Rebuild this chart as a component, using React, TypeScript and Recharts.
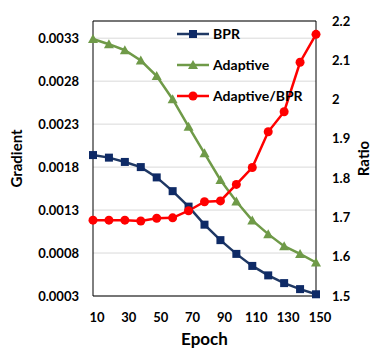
import { LineChart, Line, XAxis, YAxis, CartesianGrid, ReferenceArea, Label } from "recharts";

const epochs = [10, 20, 30, 40, 50, 60, 70, 80, 90, 100, 110, 120, 130, 140, 150];
const bpr = [0.00194, 0.00191, 0.00186, 0.0018, 0.00168, 0.00152, 0.00134, 0.00113, 0.00095, 0.00079, 0.00065, 0.00054, 0.00045, 0.00038, 0.00032];
const adaptive = [0.00329, 0.00323, 0.00316, 0.00304, 0.00286, 0.00259, 0.00227, 0.00196, 0.00165, 0.0014, 0.00118, 0.00102, 0.00088, 0.00079, 0.00069];
const ratio = [1.693, 1.693, 1.693, 1.691, 1.698, 1.699, 1.717, 1.74, 1.742, 1.784, 1.827, 1.918, 1.969, 2.095, 2.166];

const xTicks = [10, 30, 50, 70, 90, 110, 130, 150];
const leftTicks = [0.0003, 0.0008, 0.0013, 0.0018, 0.0023, 0.0028, 0.0033];
const rightTicks = [1.5, 1.6, 1.7, 1.8, 1.9, 2.0, 2.1, 2.2];

const BLUE = "#1f3864";
const BLUE_DOT = "#0e2a66";
const GREEN = "#6f9a48";
const RED = "#ff0000";
const FONT = "Lato, 'Open Sans', sans-serif";

const data = epochs.map((e, i) => ({ epoch: e, bpr: bpr[i], adaptive: adaptive[i], ratio: ratio[i] }));

const Square = (props: any) => {
  const { cx, cy, key } = props;
  return <rect key={key} x={cx - 4} y={cy - 4} width={8} height={8} fill={BLUE_DOT} />;
};

const Triangle = (props: any) => {
  const { cx, cy, key } = props;
  return <path key={key} d={`M${cx},${cy - 5} L${cx + 5},${cy + 4} L${cx - 5},${cy + 4} Z`} fill={GREEN} />;
};

const Circle = (props: any) => {
  const { cx, cy, key } = props;
  return <circle key={key} cx={cx} cy={cy} r={4.5} fill={RED} />;
};

const legendItems = [
  { name: "BPR", color: BLUE, marker: "square" },
  { name: "Adaptive", color: GREEN, marker: "triangle" },
  { name: "Adaptive/BPR", color: RED, marker: "circle" },
];

// legend sits inside the plot, so it is drawn as an overlay
function LegendBox() {
  return (
    <div style={{ position: "absolute", left: 176, top: 18, fontFamily: FONT, fontWeight: 700, fontSize: 14, color: "#000" }}>
      {legendItems.map((it) => (
        <div key={it.name} style={{ display: "flex", alignItems: "center", height: 31 }}>
          <svg width={34} height={12} style={{ marginRight: 3 }}>
            <line x1={1} y1={6} x2={33} y2={6} stroke={it.color} strokeWidth={2.5} />
            {it.marker === "square" && <rect x={13} y={2} width={8} height={8} fill={BLUE_DOT} />}
            {it.marker === "triangle" && <path d="M17,1 L22,10 L12,10 Z" fill={GREEN} />}
            {it.marker === "circle" && <circle cx={17} cy={6} r={4.5} fill={RED} />}
          </svg>
          <span>{it.name}</span>
        </div>
      ))}
    </div>
  );
}

export default function App() {
  const tickStyle = { fontFamily: FONT, fontWeight: 700, fontSize: 13, fill: "#000" };
  return (
    <div style={{ position: "absolute", left: 0, top: 0, width: 382, height: 357, background: "#fff" }}>
      <LineChart width={382} height={357} data={data} margin={{ top: 21, right: 0, left: 0, bottom: 0 }}>
        <CartesianGrid yAxisId="left" vertical={false} stroke="#d9d9d9" strokeWidth={1} />
        <XAxis
          dataKey="epoch"
          type="number"
          domain={[10, 150]}
          ticks={xTicks}
          height={61}
          axisLine={false}
          tickLine={false}
          tick={{ ...tickStyle, dy: 9, dx: 4 }}
        >
          <Label value="Epoch" position="insideBottom" offset={12} style={{ fontFamily: FONT, fontWeight: 700, fontSize: 17, fill: "#000" }} />
        </XAxis>
        <YAxis
          yAxisId="left"
          width={93}
          domain={[0.0003, 0.0035]}
          ticks={leftTicks}
          axisLine={false}
          tickLine={false}
          tickFormatter={(v: number) => v.toFixed(4)}
          tick={{ ...tickStyle, dx: -6 }}
        >
          <Label value="Gradient" angle={-90} position="insideLeft" offset={17} style={{ fontFamily: FONT, fontWeight: 700, fontSize: 15, fill: "#000", textAnchor: "middle" }} />
        </YAxis>
        <YAxis
          yAxisId="right"
          orientation="right"
          width={66}
          domain={[1.5, 2.2]}
          ticks={rightTicks}
          axisLine={false}
          tickLine={false}
          tickFormatter={(v: number) => String(Number(v.toFixed(1)))}
          tick={{ ...tickStyle, dx: 8 }}
        >
          <Label value="Ratio" angle={-90} position="insideRight" offset={18} style={{ fontFamily: FONT, fontWeight: 700, fontSize: 15, fill: "#000", textAnchor: "middle" }} />
        </YAxis>
        <ReferenceArea yAxisId="left" x1={10} x2={150} y1={0.0003} y2={0.0035} fill="none" stroke="#000" strokeWidth={1} ifOverflow="visible" />
        <Line yAxisId="left" dataKey="bpr" name="BPR" stroke={BLUE} strokeWidth={2.5} dot={Square} activeDot={false} isAnimationActive={false} />
        <Line yAxisId="left" dataKey="adaptive" name="Adaptive" stroke={GREEN} strokeWidth={2.5} dot={Triangle} activeDot={false} isAnimationActive={false} />
        <Line yAxisId="right" dataKey="ratio" name="Adaptive/BPR" stroke={RED} strokeWidth={2.5} dot={Circle} activeDot={false} isAnimationActive={false} />
      </LineChart>
      <LegendBox />
    </div>
  );
}
